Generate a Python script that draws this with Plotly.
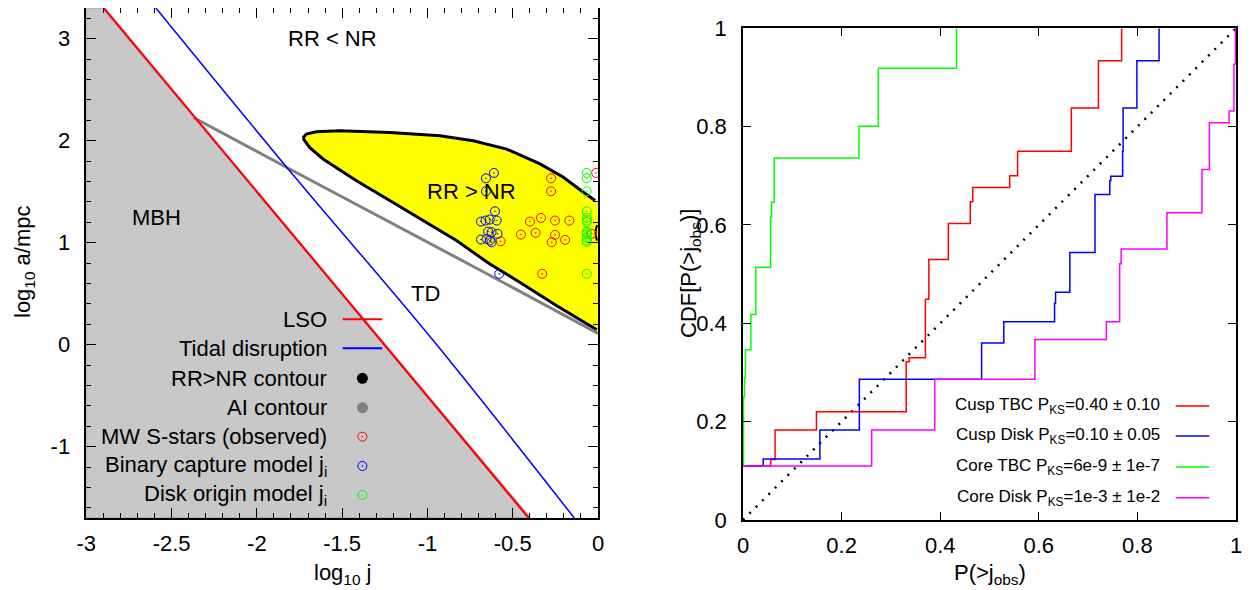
import plotly.graph_objects as go

PAGE_W, PAGE_H = 1257, 590
OFF = 8  # page body margin of the browser
W, H = PAGE_W - OFF, PAGE_H - OFF
FONT = "Liberation Sans"

# ---------------- left panel data (log10 j, log10 a/mpc) ----------------
lso_logj = [-2.897, -1.418, -0.406]
lso_loga = [3.3, 0.331, -1.7]
td_logj = [-2.592, -1.808, -0.967, -0.139]
td_loga = [3.3, 1.705, 0.042, -1.7]
ai_logj = [-2.372, -1.808, -0.712, 0.0]
ai_loga = [2.227, 1.722, 0.749, 0.11]
mbh_logj = [-3.0, -2.905, -0.398, -3.0, -3.0]
mbh_loga = [3.3, 3.3, -1.7, -1.7, 3.3]

rr_top_logj = [-1.730, -1.710, -1.651, -1.514, -1.221, -0.927, -0.732, -0.536, -0.340, -0.203, -0.086, -0.017, 0.0]
rr_top_loga = [2.025, 2.064, 2.087, 2.096, 2.080, 2.048, 1.999, 1.917, 1.771, 1.640, 1.493, 1.412, 1.395]
rr_bot_logj = [-1.730, -1.691, -1.612, -1.416, -1.221, -1.025, -0.830, -0.634, -0.438, -0.242, -0.007, 0.0]
rr_bot_loga = [2.025, 1.933, 1.820, 1.607, 1.412, 1.216, 1.020, 0.790, 0.590, 0.380, 0.146, 0.140]
arc_logj = [-0.004, -0.011, -0.014, -0.011, -0.004]
arc_loga = [1.17, 1.14, 1.095, 1.05, 1.02]

obs_logj = [-0.011, -0.275, -0.275, -0.334, -0.399, -0.252, -0.168, -0.452, -0.366, -0.252, -0.271, -0.193, -0.571, -0.327, -0.037]
obs_loga = [1.683, 1.630, 1.503, 1.242, 1.206, 1.216, 1.216, 1.079, 1.096, 1.076, 1.004, 1.027, 1.013, 0.694, 1.086]
bin_logj = [-0.610, -0.657, -0.657, -0.604, -0.594, -0.634, -0.659, -0.686, -0.644, -0.624, -0.589, -0.686, -0.653, -0.634, -0.624, -0.579]
bin_loga = [1.683, 1.630, 1.503, 1.307, 1.216, 1.226, 1.216, 1.206, 1.108, 1.102, 1.086, 1.030, 1.037, 1.020, 1.004, 0.694]
disk_logj = [-0.066] * 14
disk_loga = [1.683, 1.630, 1.503, 1.307, 1.242, 1.216, 1.200, 1.108, 1.096, 1.079, 1.047, 1.020, 1.004, 0.694]

# ---------------- right panel data (ECDF steps) ----------------
cusp_tbc_x = [0, 0.056, 0.065, 0.149, 0.331, 0.337, 0.370, 0.377, 0.4165, 0.461, 0.466, 0.541, 0.557, 0.666, 0.721, 0.768]
cusp_tbc_y = [0.110, 0.123, 0.183, 0.220, 0.322, 0.330, 0.449, 0.530, 0.603, 0.647, 0.676, 0.700, 0.750, 0.838, 0.934, 1.0]
cusp_disk_x = [0, 0.041, 0.156, 0.236, 0.484, 0.529, 0.632, 0.634, 0.663, 0.714, 0.744, 0.746, 0.770, 0.771, 0.799, 0.844]
cusp_disk_y = [0.110, 0.124, 0.183, 0.286, 0.360, 0.403, 0.441, 0.463, 0.544, 0.662, 0.690, 0.699, 0.750, 0.838, 0.934, 1.0]
core_tbc_x = [0, 0.001, 0.003, 0.005, 0.016, 0.026, 0.056, 0.058, 0.0635, 0.235, 0.2745, 0.433]
core_tbc_y = [0.110, 0.250, 0.290, 0.346, 0.418, 0.514, 0.617, 0.646, 0.736, 0.801, 0.919, 1.0]
core_disk_x = [0, 0.261, 0.389, 0.592, 0.737, 0.764, 0.767, 0.860, 0.931, 0.946, 0.986, 0.996, 0.999]
core_disk_y = [0.110, 0.183, 0.286, 0.367, 0.403, 0.521, 0.551, 0.625, 0.713, 0.808, 0.832, 0.927, 1.0]
diag_x = [0, 1]
diag_y = [0, 1]

left_labels = ["LSO", "Tidal disruption", "RR>NR contour", "AI contour",
               "MW S-stars (observed)", "Binary capture model j<sub>i</sub>",
               "Disk origin model j<sub>i</sub>"]
right_labels = ["Cusp TBC P<sub>KS</sub>=0.40 ± 0.10",
                "Cusp Disk P<sub>KS</sub>=0.10 ± 0.05",
                "Core TBC P<sub>KS</sub>=6e-9 ± 1e-7",
                "Core Disk P<sub>KS</sub>=1e-3 ± 1e-2"]

# ---------------- layout geometry (page pixels) ----------------
L = dict(x0=86.3, x1=598.0, y0=8.0, y1=518.0)
R = dict(x0=743.0, x1=1236.0, y0=28.3, y1=520.0)


def clamp(v):
    return max(0.0, min(1.0, v))


def xdom(a, b):
    return [clamp((a - OFF) / W), clamp((b - OFF) / W)]


def ydom(top, bot):
    return [clamp(1 - (bot - OFF) / H), clamp(1 - (top - OFF) / H)]


RED, BLUE, GREEN, MAG = "#ff0000", "#0000ff", "#00ff00", "#ff00ff"

fig = go.Figure()

# left panel
fig.add_trace(go.Scatter(x=mbh_logj, y=mbh_loga, mode="lines", fill="toself",
                         fillcolor="#c8c8c8", line=dict(color="#b4b4b4", width=2),
                         xaxis="x", yaxis="y", hoverinfo="skip"))
fig.add_trace(go.Scatter(x=rr_top_logj + rr_bot_logj[::-1], y=rr_top_loga + rr_bot_loga[::-1],
                         mode="lines", fill="toself", fillcolor="#ffff00",
                         line=dict(color="rgba(0,0,0,0)", width=0), xaxis="x", yaxis="y"))
fig.add_trace(go.Scatter(x=rr_top_logj[:-1], y=rr_top_loga[:-1], mode="lines",
                         line=dict(color="black", width=3), xaxis="x", yaxis="y"))
fig.add_trace(go.Scatter(x=rr_bot_logj[:-1], y=rr_bot_loga[:-1], mode="lines",
                         line=dict(color="black", width=3), xaxis="x", yaxis="y"))
fig.add_trace(go.Scatter(x=arc_logj, y=arc_loga, mode="lines",
                         line=dict(color="black", width=2, shape="spline"), xaxis="x", yaxis="y"))
fig.add_trace(go.Scatter(x=ai_logj, y=ai_loga, mode="lines",
                         line=dict(color="#808080", width=3), xaxis="x", yaxis="y"))
fig.add_trace(go.Scatter(x=lso_logj, y=lso_loga, mode="lines",
                         line=dict(color=RED, width=2.2), xaxis="x", yaxis="y"))
fig.add_trace(go.Scatter(x=td_logj, y=td_loga, mode="lines",
                         line=dict(color=BLUE, width=1.5, shape="spline"), xaxis="x", yaxis="y"))
for xs, ys, c in [(obs_logj, obs_loga, RED), (bin_logj, bin_loga, BLUE), (disk_logj, disk_loga, GREEN)]:
    fig.add_trace(go.Scatter(x=xs, y=ys, mode="markers", xaxis="x", yaxis="y",
                             marker=dict(symbol="circle-open-dot", size=9, color=c,
                                         line=dict(color=c, width=1))))

# right panel
fig.add_trace(go.Scatter(x=diag_x, y=diag_y, mode="lines", xaxis="x2", yaxis="y2",
                         line=dict(color="black", width=2.5, dash="2px,7px")))
for xs, ys, c in [(cusp_tbc_x, cusp_tbc_y, RED), (cusp_disk_x, cusp_disk_y, BLUE),
                  (core_tbc_x, core_tbc_y, GREEN), (core_disk_x, core_disk_y, MAG)]:
    fig.add_trace(go.Scatter(x=xs, y=ys, mode="lines", xaxis="x2", yaxis="y2",
                             line=dict(color=c, width=1.5, shape="hv")))

# ---------------- manual legends on a full-page pixel overlay ----------------
ann = []
l_rows = [319.3, 348.3, 378.3, 407.7, 436.7, 466.0, 495.0]
l_text_x, l_line = 328.7, (342.6, 382.2)
l_mark_x = 362.4
for lab, yy in zip(left_labels, l_rows):
    ann.append(dict(x=l_text_x, y=yy, xref="x3", yref="y3", text=lab, showarrow=False,
                    xanchor="right", yanchor="middle", font=dict(size=22, family=FONT, color="black")))
for yy, c in zip(l_rows[:2], [RED, BLUE]):
    fig.add_trace(go.Scatter(x=list(l_line), y=[yy, yy], mode="lines", xaxis="x3", yaxis="y3",
                             line=dict(color=c, width=2)))
fig.add_trace(go.Scatter(x=[l_mark_x, l_mark_x], y=l_rows[2:4], mode="markers", xaxis="x3", yaxis="y3",
                         marker=dict(symbol="circle", size=11, color=["black", "#808080"])))
for yy, c in zip(l_rows[4:], [RED, BLUE, GREEN]):
    fig.add_trace(go.Scatter(x=[l_mark_x], y=[yy], mode="markers", xaxis="x3", yaxis="y3",
                             marker=dict(symbol="circle-open-dot", size=9, color=c,
                                         line=dict(color=c, width=1))))

r_rows = [406.0, 436.0, 467.0, 497.7]
r_text_x, r_line = 1162.3, (1175.7, 1209.3)
for lab, yy, c in zip(right_labels, r_rows, [RED, BLUE, GREEN, MAG]):
    ann.append(dict(x=r_text_x, y=yy, xref="x3", yref="y3", text=lab, showarrow=False,
                    xanchor="right", yanchor="middle", font=dict(size=17, family=FONT, color="black")))
    fig.add_trace(go.Scatter(x=list(r_line), y=[yy, yy], mode="lines", xaxis="x3", yaxis="y3",
                             line=dict(color=c, width=1.5)))


def txt(x, y, s, size=22, angle=0):
    ann.append(dict(x=x, y=y, xref="x3", yref="y3", text=s, showarrow=False, textangle=angle,
                    xanchor="center", yanchor="middle", font=dict(size=size, family=FONT, color="black")))


txt(332, 38, "RR &lt; NR")
txt(156, 217, "MBH")
txt(471.7, 191.7, "RR &gt; NR")
txt(425, 293, "TD")
txt(342.6, 574, "log<sub>10</sub> j")
txt(24, 262, "log<sub>10</sub> a/mpc", angle=-90)
txt(990, 574, "P(&gt;j<sub>obs</sub>)")
txt(690, 274, "CDF[P(&gt;j<sub>obs</sub>)]", angle=-90)

axfont = dict(size=22, family=FONT, color="black")
common = dict(showline=True, linecolor="black", linewidth=1.5, mirror="ticks", ticks="inside",
              tickcolor="black", tickwidth=1.2, showgrid=False, zeroline=False, tickfont=axfont,
              automargin=False)
xstand = dict(ticklabelstandoff=5)
ystand = dict(ticklabelstandoff=10)

fig.update_layout(
    width=W, height=H, margin=dict(l=0, r=0, t=0, b=0, autoexpand=False), showlegend=False,
    paper_bgcolor="white", plot_bgcolor="rgba(0,0,0,0)",
    font=dict(family=FONT, size=22, color="black"),
    xaxis=dict(domain=xdom(L["x0"], L["x1"]), range=[-3, 0], anchor="y",
               tickvals=[-3, -2.5, -2, -1.5, -1, -0.5, 0], ticktext=["-3", "-2.5", "-2", "-1.5", "-1", "-0.5", "0"],
               ticklen=10, minor=dict(dtick=0.1, ticklen=5, ticks="inside", tickcolor="black"),
               **common, **xstand),
    yaxis=dict(domain=ydom(L["y0"], L["y1"]), range=[-1.7, 3.3], anchor="x",
               tickvals=[-1, 0, 1, 2, 3], ticktext=["-1", "0", "1", "2", "3"],
               ticklen=10, minor=dict(dtick=0.2, ticklen=5, ticks="inside", tickcolor="black"),
               **common, **ystand),
    xaxis2=dict(domain=xdom(R["x0"], R["x1"]), range=[0, 1], anchor="y2",
                tickvals=[0, 0.2, 0.4, 0.6, 0.8, 1], ticktext=["0", "0.2", "0.4", "0.6", "0.8", "1"],
                ticklen=8, **common, **xstand),
    yaxis2=dict(domain=ydom(R["y0"], R["y1"]), range=[0, 1], anchor="x2",
                tickvals=[0, 0.2, 0.4, 0.6, 0.8, 1], ticktext=["0", "0.2", "0.4", "0.6", "0.8", "1"],
                ticklen=8, **common, **ystand),
    xaxis3=dict(domain=[0, 1], range=[OFF, OFF + W], visible=False, anchor="y3", automargin=False),
    yaxis3=dict(domain=[0, 1], range=[OFF + H, OFF], visible=False, anchor="x3", automargin=False),
    annotations=ann,
)

fig.write_html("out.html")
